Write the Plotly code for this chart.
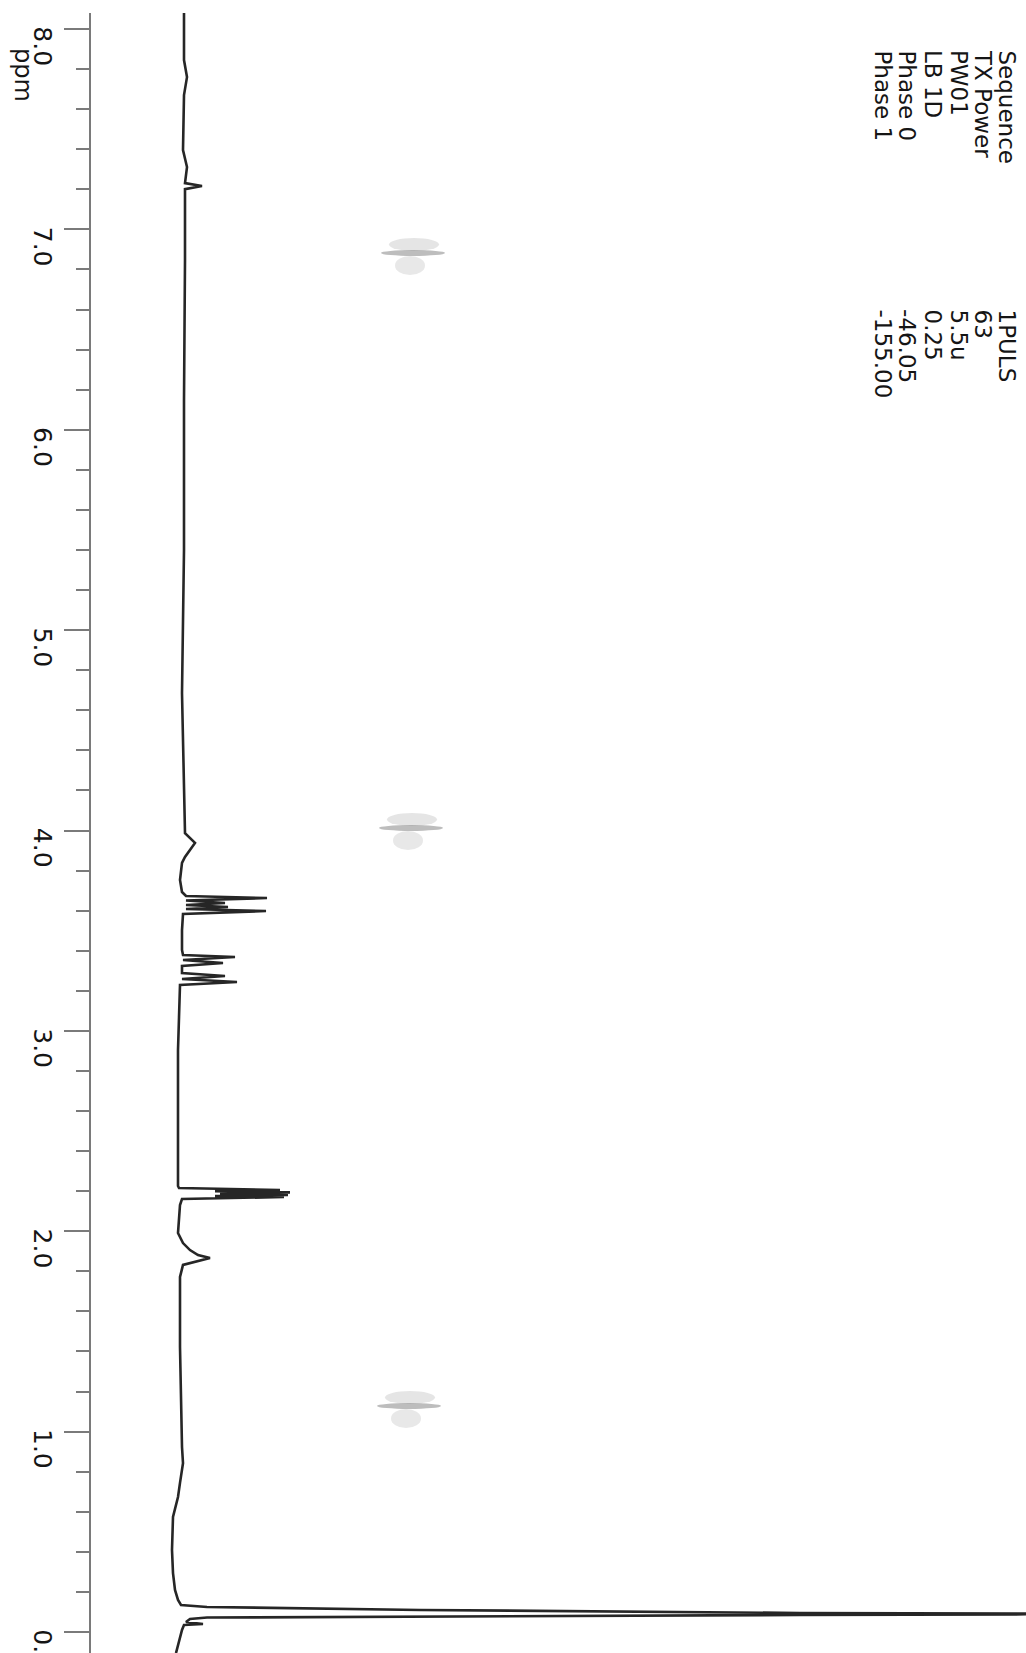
import plotly.graph_objects as go

# 1H NMR trace (chemical shift in ppm, intensity in arbitrary units, 0 = baseline)
trace_ppm = [
    8.085, 7.845, 7.760, 7.670, 7.396, 7.311, 7.231, 7.216, 7.201, 6.847,
    6.148, 5.400, 4.686, 4.402, 3.987, 3.938, 3.903, 3.868, 3.838, 3.753,
    3.693, 3.673, 3.663, 3.651, 3.638, 3.628, 3.618, 3.608, 3.598, 3.583,
    3.503, 3.404, 3.379, 3.369, 3.354, 3.339, 3.324, 3.289, 3.274, 3.259,
    3.244, 3.229, 2.904, 2.405, 2.226, 2.216, 2.206, 2.200, 2.194, 2.187,
    2.181, 2.176, 2.171, 2.161, 2.131, 1.991, 1.941, 1.906, 1.881, 1.866,
    1.847, 1.832, 1.772, 1.422, 0.923, 0.843, 0.744, 0.674, 0.574, 0.409,
    0.294, 0.210, 0.160, 0.135, 0.125, 0.110, 0.095, 0.090, 0.085, 0.075,
    0.072, 0.065, 0.050, 0.040, 0.035, 0.010, -0.105,
]
trace_intensity = [
    -1, -1, 2, -1, -2, 2, 0, 17, 0, 0,
    -1, -1, -3, -2, 0, 10, 5, 0, -3, -5,
    -3, 1, 82, 1, 40, 1, 43, 1, 81, -2,
    -3, -3, -2, 50, -2, 38, -3, -3, 40, -3,
    52, -5, -7, -7, -7, -6, 95, 30, 105, 35,
    103, 30, 99, -3, -5, -7, -2, 5, 13, 25,
    8, -2, -5, -5, -3, -2, -5, -7, -12, -13,
    -12, -10, -7, -4, 22, 235, 615, 965, 615, 235,
    22, 5, 1, 18, -1, -3, -9,
]

# shift axis ticks
ppm_major = [0, 1, 2, 3, 4, 5, 6, 7, 8]
ppm_labels = ["0.0", "1.0", "2.0", "3.0", "4.0", "5.0", "6.0", "7.0", "8.0"]

# acquisition parameters
param_names = ["Sequence", "TX Power", "PW01", "LB 1D", "Phase 0", "Phase 1"]
param_values = ["1PULS", "63", "5.5u", "0.25", "-46.05", "-155.00"]

W, H = 1026, 1653
FONT = "DejaVu Sans"

fig = go.Figure()
fig.add_trace(go.Scatter(
    x=trace_intensity, y=trace_ppm, mode="lines",
    line=dict(color="#262626", width=2.6),
    hoverinfo="skip", showlegend=False,
))

# parameter block, printed sideways
col_x = [1007, 983, 959, 933, 907, 883]
for name, val, cx in zip(param_names, param_values, col_x):
    for txt, top in ((name, 48), (val, 307)):
        fig.add_annotation(
            text=txt, x=cx / W, y=1 - top / H, xref="paper", yref="paper",
            xanchor="center", yanchor="top", textangle=90, showarrow=False,
            font=dict(family=FONT, size=23, color="#151515"),
        )

# axis title
fig.add_annotation(
    text="ppm", x=23 / W, y=1 - 46 / H, xref="paper", yref="paper",
    xanchor="center", yanchor="top", textangle=90, showarrow=False,
    font=dict(family=FONT, size=24, color="#151515"),
)

# faint show-through smudges from the reverse side of the sheet
for cx, cy in ((413, 253), (411, 828), (409, 1406)):
    blobs = [
        (-32, 32, -3, 3, "rgba(90,90,90,0.40)"),
        (-24, 26, -15, -2, "rgba(150,150,150,0.25)"),
        (-18, 12, 3, 22, "rgba(150,150,150,0.22)"),
    ]
    for x0, x1, y0, y1, col in blobs:
        fig.add_shape(
            type="circle", xref="paper", yref="paper",
            x0=(cx + x0) / W, x1=(cx + x1) / W,
            y0=1 - (cy + y1) / H, y1=1 - (cy + y0) / H,
            fillcolor=col, line=dict(width=0), layer="below",
        )

top_px = 13
fig.update_layout(
    width=W, height=H,
    margin=dict(l=0, r=0, t=0, b=0),
    paper_bgcolor="white", plot_bgcolor="white",
    xaxis=dict(range=[-185, 841], visible=False, fixedrange=True,
               automargin=False),
    yaxis=dict(
        range=[8 * (1632 - H) / 1603, 8 * (1632 - top_px) / 1603],
        domain=[0, 1 - top_px / H],
        anchor="free", position=90 / W, side="left", automargin=False,
        showline=True, linecolor="#7a7a7a", linewidth=1.5,
        showgrid=False, zeroline=False,
        tickmode="array", tickvals=ppm_major, ticktext=ppm_labels,
        ticks="outside", ticklen=25, tickwidth=1.5, tickcolor="#7a7a7a",
        tickangle=90, ticklabelshift=21, ticklabelstandoff=0,
        ticklabeloverflow="allow",
        tickfont=dict(family=FONT, size=25, color="#151515"),
        minor=dict(dtick=0.2, tick0=0, ticks="outside", ticklen=13,
                   tickwidth=1.5, tickcolor="#7a7a7a", showgrid=False),
    ),
    showlegend=False,
)

fig.write_html("out.html")
